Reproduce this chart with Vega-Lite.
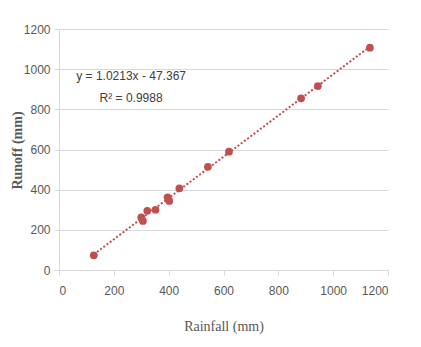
{
  "$schema": "https://vega.github.io/schema/vega-lite/v6.json",
  "width": 329,
  "height": 241,
  "autosize": "none",
  "padding": {"left": 59, "top": 29, "right": 33, "bottom": 77},
  "background": "white",
  "datasets": {
    "pts": [
      {"rainfall": 127, "runoff": 73},
      {"rainfall": 300, "runoff": 262},
      {"rainfall": 306, "runoff": 244},
      {"rainfall": 322, "runoff": 295},
      {"rainfall": 352, "runoff": 300},
      {"rainfall": 396, "runoff": 362},
      {"rainfall": 402, "runoff": 344},
      {"rainfall": 439, "runoff": 407},
      {"rainfall": 543, "runoff": 514},
      {"rainfall": 620, "runoff": 589},
      {"rainfall": 883, "runoff": 855},
      {"rainfall": 944, "runoff": 916},
      {"rainfall": 1134, "runoff": 1107}
    ],
    "notes": [
      {"rainfall": 263, "runoff": 966, "label": "y = 1.0213x - 47.367"},
      {"rainfall": 263, "runoff": 856, "label": "R² = 0.9988"}
    ]
  },
  "config": {
    "view": {"stroke": null},
    "axis": {
      "labelFont": "Liberation Sans",
      "labelFontSize": 12,
      "labelColor": "#595959",
      "gridColor": "#d9d9d9",
      "domainColor": "#d9d9d9",
      "tickColor": "#d9d9d9",
      "tickSize": 5,
      "titleColor": "#595959",
      "format": "d"
    }
  },
  "layer": [
    {
      "data": {"name": "pts"},
      "transform": [{"regression": "runoff", "on": "rainfall", "method": "linear", "extent": [127, 1134]}],
      "mark": {"type": "line", "color": "#C0504D", "strokeWidth": 2, "strokeDash": [2, 2]},
      "encoding": {
        "x": {"field": "rainfall", "type": "quantitative"},
        "y": {"field": "runoff", "type": "quantitative"}
      }
    },
    {
      "data": {"name": "pts"},
      "mark": {"type": "circle", "color": "#C0504D", "opacity": 1, "size": 60},
      "encoding": {
        "x": {
          "field": "rainfall", "type": "quantitative",
          "scale": {"domain": [0, 1200], "nice": false},
          "axis": {
            "values": [0, 200, 400, 600, 800, 1000, 1200],
            "grid": false,
            "labelPadding": 10,
            "title": "Rainfall (mm)",
            "titleFont": "Liberation Serif",
            "titleFontSize": 14,
            "titleFontWeight": "normal",
            "titleY": 49
          }
        },
        "y": {
          "field": "runoff", "type": "quantitative",
          "scale": {"domain": [0, 1200], "nice": false},
          "axis": {
            "values": [0, 200, 400, 600, 800, 1000, 1200],
            "grid": true,
            "labelPadding": 4,
            "title": "Runoff (mm)",
            "titleFont": "Liberation Serif",
            "titleFontSize": 14,
            "titleFontWeight": "bold",
            "titleX": -35,
            "titleY": 121
          }
        }
      }
    },
    {
      "data": {"name": "notes"},
      "mark": {"type": "text", "font": "Liberation Sans", "fontSize": 12, "color": "#404040", "align": "center", "baseline": "middle"},
      "encoding": {
        "x": {"field": "rainfall", "type": "quantitative"},
        "y": {"field": "runoff", "type": "quantitative"},
        "text": {"field": "label"}
      }
    }
  ]
}
